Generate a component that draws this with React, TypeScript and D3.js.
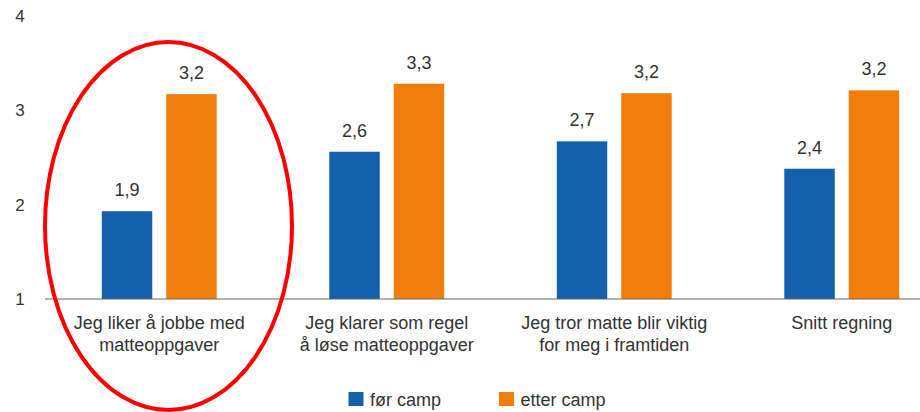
import React from "react";
import * as d3 from "d3";

const categories: string[][] = [
  ["Jeg liker å jobbe med", "matteoppgaver"],
  ["Jeg klarer som regel", "å løse matteoppgaver"],
  ["Jeg tror matte blir viktig", "for meg i framtiden"],
  ["Snitt regning"],
];
const seriesNames = ["før camp", "etter camp"];
const forCamp = [1.93, 2.56, 2.67, 2.38];
const etterCamp = [3.17, 3.28, 3.18, 3.21];
const forLabels = ["1,9", "2,6", "2,7", "2,4"];
const etterLabels = ["3,2", "3,3", "3,2", "3,2"];
const yTicks = [1, 2, 3, 4];

const COLORS = ["#1461ab", "#f17d0a"];
const W = 920;
const H = 412;
const FONT = "'Liberation Sans', Arial, sans-serif";

export default function App() {
  const x0 = d3
    .scaleBand<number>()
    .domain(d3.range(categories.length))
    .range([45.5, 955.5])
    .paddingInner(0.495)
    .paddingOuter(0.2475);
  const x1 = d3
    .scaleBand<number>()
    .domain([0, 1])
    .range([0, x0.bandwidth()])
    .paddingInner(0.217)
    .paddingOuter(0);
  const y = d3.scaleLinear().domain([1, 4]).range([299, 15.8]);

  const series = [forCamp, etterCamp];
  const labels = [forLabels, etterLabels];

  return (
    <svg
      width={W}
      height={H}
      style={{ position: "absolute", left: 0, top: 0, background: "#fff" }}
      fontFamily={FONT}
    >
      <rect x={0} y={0} width={W} height={H} fill="#fff" />
      {yTicks.map((t) => (
        <text
          key={t}
          x={20}
          y={y(t)}
          dy="0.36em"
          textAnchor="middle"
          fontSize={17}
          fill="#333"
        >
          {t}
        </text>
      ))}
      {categories.map((cat, i) => (
        <g key={i} transform={`translate(${x0(i)},0)`}>
          {series.map((s, j) => (
            <g key={j}>
              <rect
                x={x1(j)}
                y={y(s[i])}
                width={x1.bandwidth()}
                height={y(1) - y(s[i])}
                fill={COLORS[j]}
              />
              <text
                x={(x1(j) as number) + x1.bandwidth() / 2}
                y={y(s[i]) - 15}
                textAnchor="middle"
                fontSize={18}
                fill="#333"
              >
                {labels[j][i]}
              </text>
            </g>
          ))}
          {cat.map((line, k) => (
            <text
              key={k}
              x={x0.bandwidth() / 2}
              y={322.7 + k * 22.3}
              dy="0.36em"
              textAnchor="middle"
              fontSize={18}
              fill="#333"
            >
              {line}
            </text>
          ))}
        </g>
      ))}
      <line x1={45} x2={W} y1={y(1)} y2={y(1)} stroke="#666" strokeWidth={1.2} />
      {seriesNames.map((name, j) => (
        <g key={name} transform={`translate(${348.5 + j * 150.5},392)`}>
          <rect x={0} y={0} width={15} height={14} fill={COLORS[j]} />
          <text x={21.5} y={7.5} dy="0.36em" fontSize={18} fill="#333">
            {name}
          </text>
        </g>
      ))}
      <ellipse
        cx={168.5}
        cy={226}
        rx={123.5}
        ry={184}
        fill="none"
        stroke="#ff0000"
        strokeWidth={4}
      />
    </svg>
  );
}
